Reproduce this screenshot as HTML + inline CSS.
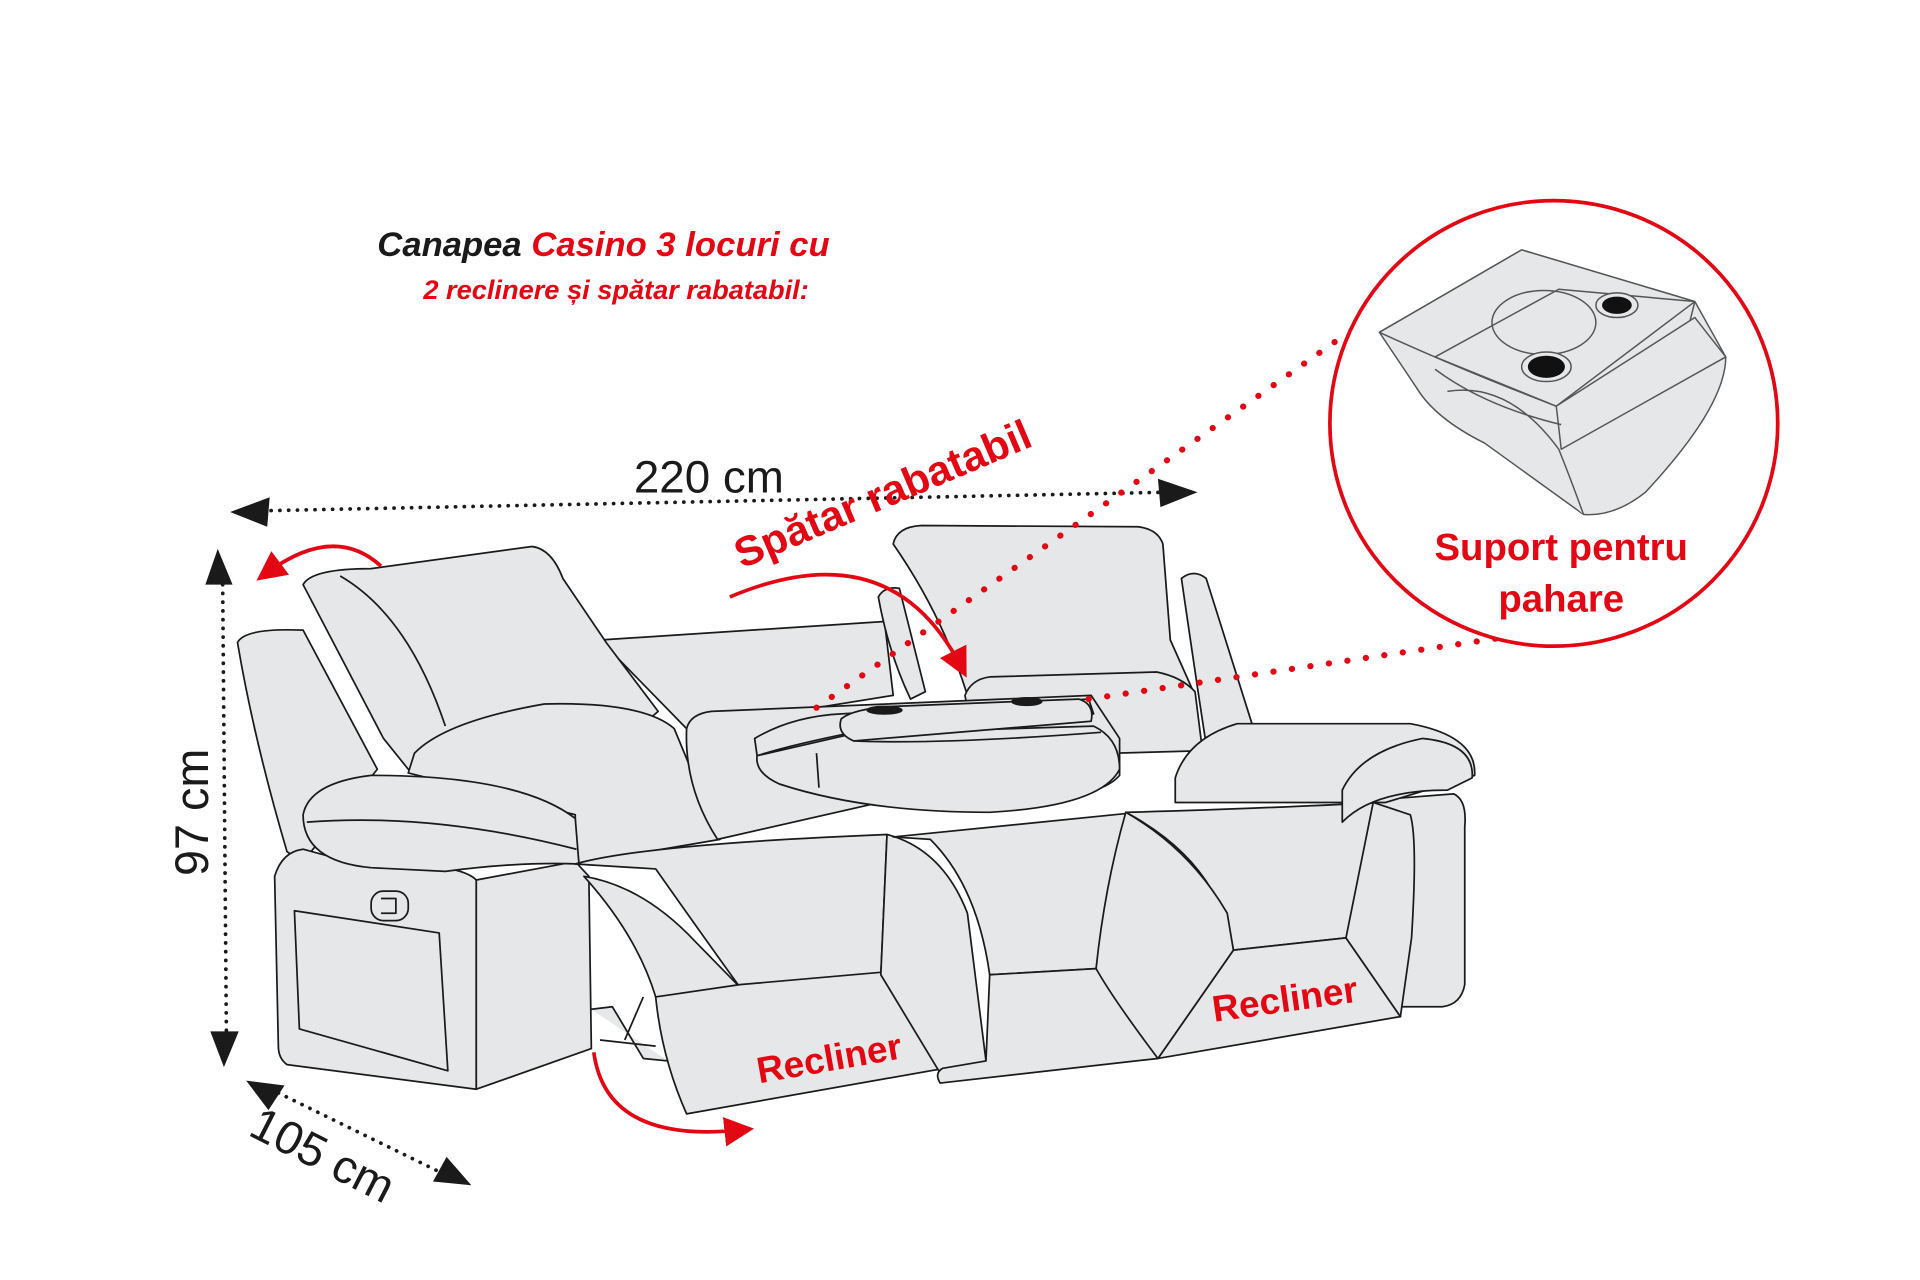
<!DOCTYPE html>
<html><head><meta charset="utf-8"><style>
html,body{margin:0;padding:0;background:#fff;width:1920px;height:1280px;overflow:hidden}
svg{display:block}
text{font-family:"Liberation Sans",sans-serif}
</style></head><body>
<svg width="1920" height="1280" viewBox="0 0 1552 1040" preserveAspectRatio="none" xmlns="http://www.w3.org/2000/svg">
<defs>
<marker id="ar" viewBox="0 0 10 10" refX="6" refY="5" markerWidth="8" markerHeight="8" orient="auto"><path d="M0,0 L10,5 L0,10 Z" fill="#e30613"/></marker>
</defs>
<g fill="#e6e7e9" stroke="#1a1a1a" stroke-width="1.4" stroke-linejoin="round">
<path d="M485,520 L715,505 L722,565 L555,592 Z"/>
<path d="M955,470 Q965,462 975,470 L1012,588 L975,605 Q968,560 955,470Z"/>
<path d="M710,485 Q715,476 727,478 L748,562 L736,568 Q718,530 710,485Z"/>
<path d="M722,442 Q725,428 745,427 L920,428 Q936,430 940,442 L946,520 L966,565 L782,565 Q762,500 722,442Z"/>
<path d="M780,565 Q785,552 800,550 L935,546 Q955,550 966,562 L972,610 L790,615Z"/>
<path d="M192,522 Q198,510 245,512 L305,625 L245,700 L232,692 Q205,600 192,522 Z"/>
<path d="M245,475 Q252,462 300,462 L430,444 Q446,446 455,470 L490,522 L532,578 L470,632 L330,625 L310,600 Z"/>
<path d="M275,468 Q330,500 360,590"/>
<path d="M335,612 Q360,586 440,572 Q520,570 545,592 L582,682 L465,702 L465,662 L330,628 Z"/>
<path d="M555,592 Q558,580 575,578 L882,565 L905,600 L905,630 Q880,660 720,650 L580,682 Q553,640 555,592 Z"/>
<path d="M610,600 Q640,582 680,580 L880,568 L884,580 L690,595 Q640,605 612,614 Z"/>
<path d="M612,614 Q610,628 630,637 Q700,660 800,660 Q890,655 905,625 Q905,600 884,590 L690,596 Z"/>
<path d="M680,584 Q690,576 720,574 L872,568 Q885,572 882,586 L690,602 Q676,596 680,584Z"/>
<path d="M660,612 L662,640 M690,602 Q760,605 890,595"/>
<ellipse cx="715" cy="577" rx="14" ry="3" fill="#1a1a1a"/>
<ellipse cx="830" cy="570" rx="12" ry="3" fill="#1a1a1a"/>
<path d="M222,712 Q228,692 245,690 L300,705 Q370,700 385,715 L385,885 L232,865 Q225,860 225,850 Z"/>
<path d="M385,715 L465,700 L476,712 L478,852 L385,885 Z"/>
<path d="M238,740 L355,758 L362,870 L242,836 Z"/>
<path d="M245,662 Q250,636 300,630 Q420,630 465,665 L468,702 Q420,700 360,708 L300,705 Q245,700 245,662Z"/>
<path d="M248,668 Q350,660 466,690"/>
<rect x="300" y="724" width="30" height="24" rx="10"/>
<path d="M308,730 L320,730 L320,742 L308,742"/>
<path d="M465,702 Q520,686 717,678 L712,792 L598,802 Q575,770 530,706 Z"/>
<path d="M472,712 Q520,720 562,765 L598,802 L530,810 Q515,760 472,712Z"/>
<path d="M530,810 L598,800 L712,790 L797,862 L555,905 Q535,860 530,810 Z"/>
<path d="M717,678 Q762,690 782,742 L797,862 L760,872 L712,792 Z"/>
<path d="M478,820 L495,818 L520,860 L540,862 M485,845 L530,850 M520,810 L505,845"/>
<path d="M722,680 L920,660 Q896,720 886,787 L800,792 Q790,720 752,682 Z"/>
<path d="M800,792 L886,787 L936,860 L760,880 Q755,872 762,868 L797,862Z"/>
<path d="M910,660 Q992,658 1118,652 L1088,762 L997,772 Q985,700 910,660 Z"/>
<path d="M997,772 L1088,762 L1132,826 L936,860 Z"/>
<path d="M910,660 Q962,690 992,742 L997,772 L936,860 Q900,812 886,787 Q893,720 910,660 Z"/>
<path d="M1112,650 L1175,645 Q1186,650 1184,672 L1184,800 Q1181,816 1166,818 L1132,818 Z"/>
<path d="M1110,652 L1140,662 Q1146,682 1141,762 L1132,826 L1088,762 Z"/>
<path d="M950,632 Q960,600 1000,588 L1140,588 Q1194,598 1192,630 L1120,652 Q1020,652 950,652Z"/>
<path d="M1085,642 Q1100,610 1150,600 Q1192,604 1190,632 L1170,642 Q1110,642 1085,668Z"/>
</g>
<g stroke="#1a1a1a" stroke-width="3" stroke-dasharray="0.1 7" stroke-linecap="round" fill="none">
<path d="M212,415 L940,400"/>
<path d="M180,475 L183,840"/>
<path d="M225,888 L355,952"/>
</g>
<g fill="#1a1a1a">
<path d="M186,416 L218,404 L216,428 Z"/>
<path d="M968,400 L936,389 L938,412 Z"/>
<path d="M176,446 L166,475 L188,475 Z"/>
<path d="M181,867 L170,838 L193,838 Z"/>
<path d="M199,878 L230,882 L217,902 Z"/>
<path d="M381,963 L350,960 L361,940 Z"/>
</g>
<text x="573" y="400" font-size="37" text-anchor="middle" fill="#1a1a1a">220 cm</text>
<text transform="translate(168,660) rotate(-90)" font-size="38" text-anchor="middle" fill="#1a1a1a">97 cm</text>
<text transform="translate(255,950) rotate(27)" font-size="38" text-anchor="middle" fill="#1a1a1a">105 cm</text>
<text x="305" y="208" font-size="28" font-weight="bold" font-style="italic"><tspan fill="#1a1a1a">Canapea </tspan><tspan fill="#e30613">Casino 3 locuri cu</tspan></text>
<text x="498" y="243" font-size="22" font-weight="bold" font-style="italic" fill="#e30613" text-anchor="middle">2 reclinere și spătar rabatabil:</text>
<g stroke="#e30613" stroke-width="3" fill="none">
<path d="M308,460 Q270,425 215,466" marker-end="url(#ar)"/>
<path d="M590,485 Q720,430 777,542" marker-end="url(#ar)"/>
<path d="M480,855 Q490,930 600,918" marker-end="url(#ar)"/>
</g>
<text transform="translate(718,412) rotate(-23)" font-size="34" font-weight="bold" fill="#e30613" text-anchor="middle">Spătar rabatabil</text>
<text transform="translate(672,870) rotate(-10)" font-size="30" font-weight="bold" fill="#e30613" text-anchor="middle">Recliner</text>
<text transform="translate(1040,822) rotate(-8)" font-size="30" font-weight="bold" fill="#e30613" text-anchor="middle">Recliner</text>
<g stroke="#e30613" stroke-width="5" stroke-dasharray="0.1 15" stroke-linecap="round" fill="none">
<path d="M660,575 L1090,270"/>
<path d="M880,568 L1215,518"/>
</g>
<circle cx="1256" cy="344" r="181" fill="#fff" stroke="#e30613" stroke-width="3"/>
<g fill="#e6e7e9" stroke="#555" stroke-width="1.2" stroke-linejoin="round">
<path d="M1115,270 L1230,203 L1370,245 L1395,290 Q1395,330 1330,400 Q1305,420 1280,418 L1200,360 Q1160,340 1145,315 Z"/>
<path d="M1115,270 L1230,203 L1370,245 L1365,265 L1258,330 Q1180,300 1115,270Z"/>
<path d="M1160,290 L1260,235 L1370,245 L1258,330 Z"/>
<path d="M1258,330 L1370,258 L1395,290 L1262,365 Z"/>
<path d="M1160,300 Q1200,330 1262,345 M1170,318 Q1220,310 1260,365 Q1270,390 1280,418"/>
<ellipse cx="1248" cy="262" rx="42" ry="26" fill="none"/>
<ellipse cx="1307" cy="248" rx="17" ry="10"/>
<ellipse cx="1250" cy="298" rx="20" ry="12"/>
</g>
<ellipse cx="1307" cy="248" rx="12" ry="7" fill="#111"/>
<ellipse cx="1250" cy="298" rx="15" ry="9" fill="#111"/>
<text x="1262" y="455" font-size="31" font-weight="bold" fill="#e30613" text-anchor="middle">Suport pentru</text>
<text x="1262" y="497" font-size="31" font-weight="bold" fill="#e30613" text-anchor="middle">pahare</text>
</svg>
</body></html>
